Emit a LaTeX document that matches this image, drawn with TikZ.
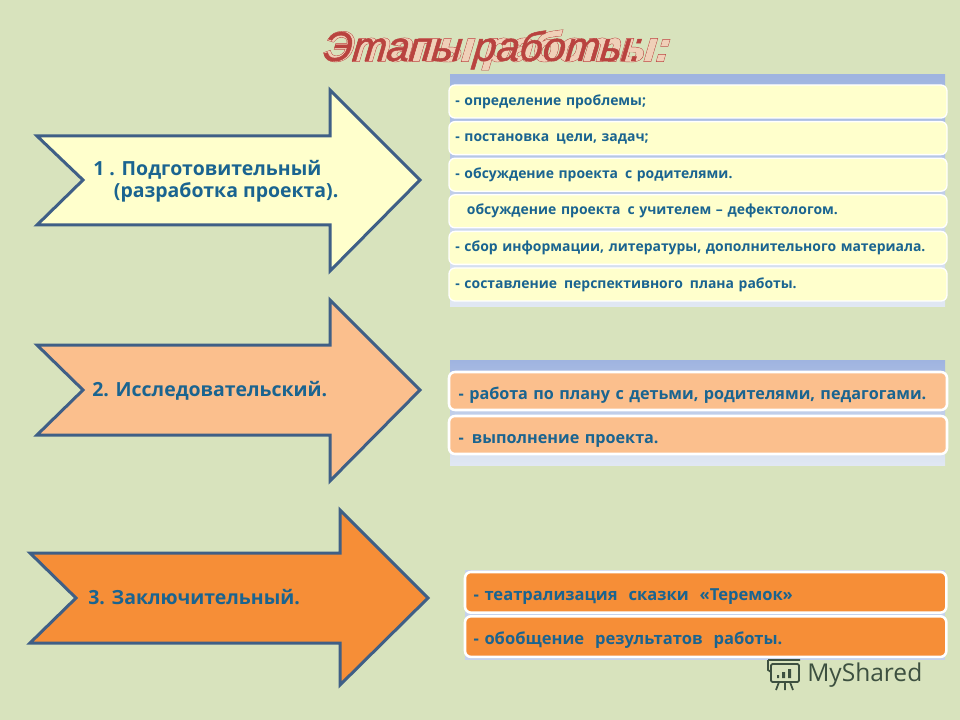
\documentclass[tikz,border=0pt]{standalone}
\usepackage{fontspec}
\setmainfont{Open Sans}
\newfontface\titleouter{Liberation Sans Bold Italic}[FakeBold=4.6,FakeSlant=0.1]
\newfontface\titlemiddle{Liberation Sans Bold Italic}[FakeBold=2.4,FakeSlant=0.1]
\newfontface\titleinner{Liberation Sans Italic}[FakeBold=1.2,FakeSlant=0.1]
\usepackage{tikz}
\usetikzlibrary{positioning}
\definecolor{pagegreen}{HTML}{D8E3BD}
\definecolor{arrowedge}{HTML}{3F5F86}
\definecolor{paleyellow}{HTML}{FFFFCC}
\definecolor{paleorange}{HTML}{FBBF8D}
\definecolor{deeporange}{HTML}{F68E37}
\definecolor{inkblue}{HTML}{1A6490}
\definecolor{paneltop}{HTML}{9FB4E0}
\definecolor{panelbottom}{HTML}{E1E8F3}
\definecolor{titlered}{HTML}{B9433F}
\definecolor{titlepale}{HTML}{F0D0B8}
\definecolor{logogrey}{HTML}{3D5040}
\newcommand{\titlelayers}[1]{\rlap{\color{titlered}\titleouter #1}\rlap{\color{titlepale}\titlemiddle #1}{\color{titlered}\titleouter\phantom{}}}
\tikzset{
	stagearrow/.style={draw=arrowedge, line width=2.25pt, line join=miter},
	stagelabel/.style={text=inkblue, font=\bfseries\fontsize{14.6pt}{16.5pt}\selectfont, align=left, anchor=west, inner sep=0pt},
	panelback/.style={bottom color=panelbottom, top color=paneltop, draw=none},
	stepitem/.style={rounded corners=4.5pt, draw=white, outer sep=0pt, minimum width=373.5pt, text width=364pt, align=left, inner xsep=4pt, inner ysep=0pt, text height=1ex, text depth=0pt, text=inkblue, anchor=north west},
	smallitem/.style={stepitem, fill=paleyellow, line width=1pt, minimum height=24.75pt, font=\bfseries\fontsize{10.45pt}{12pt}\selectfont},
	midditem/.style={stepitem, fill=paleorange, line width=1.9pt, minimum height=28.5pt, inner xsep=6.5pt, text width=359pt, text height=12.5pt, font=\bfseries\fontsize{12.15pt}{14pt}\selectfont},
	bigitem/.style={stepitem, fill=deeporange, line width=1.9pt, minimum width=361pt, inner xsep=6pt, text width=348pt, text height=12.5pt, minimum height=30.5pt, font=\bfseries\fontsize{12.4pt}{14pt}\selectfont}
}
\renewcommand{\titlelayers}[1]{\rlap{\color{titlered}\titleouter #1}\rlap{\color{titlepale}\titlemiddle #1}{\color{titlered}\titleinner #1}}
\begin{document}
\begin{tikzpicture}[x=0.75pt, y=-0.75pt, node distance=2.7pt]
	\fill[pagegreen] (0,0) rectangle (960,720);
	\useasboundingbox (0,0) rectangle (960,720);

	\node[inner sep=0pt, font=\fontsize{31pt}{36pt}\selectfont] (title) at (482,50) {\titlelayers{Этапы работы:}};

	\draw[stagearrow, fill=paleyellow] (37,136) -- (330,136) -- (330,90) -- (420,180) -- (330,271) -- (330,225) -- (37,225) -- (83,180) -- cycle;
	\draw[stagearrow, fill=paleorange] (37,345) -- (330,345) -- (330,300) -- (420,390) -- (330,481) -- (330,435) -- (37,435) -- (83,390) -- cycle;
	\draw[stagearrow, fill=deeporange] (30,553) -- (340,553) -- (340,510) -- (428,598) -- (340,685) -- (340,643) -- (30,643) -- (76,598) -- cycle;

	\node[stagelabel] (stageone) at (93,181) {1 . Подготовительный\\\hspace*{15.5pt}(разработка проекта).};
	\node[stagelabel] (stagetwo) at (92,391) {2. Исследовательский.};
	\node[stagelabel] (stagethree) at (88,597) {3. Заключительный.};

	\fill[panelback] (450,75) rectangle (945,307);
	\node[smallitem] (item1) at (449,85) {- определение проблемы;};
	\node[smallitem, below=of item1] (item2) {- постановка\ \,цели, задач;};
	\node[smallitem, below=of item2] (item3) {- обсуждение проекта\ \,с родителями.};
	\node[smallitem, below=of item3] (item4) {\ \ \,обсуждение проекта\ \,с учителем – дефектологом.};
	\node[smallitem, below=of item4] (item5) {- сбор информации, литературы, дополнительного материала.};
	\node[smallitem, below=of item5] (item6) {- составление\ \,перспективного\ \,плана работы.};

	\fill[panelback] (450,360) rectangle (945,465);
	\node[midditem] (work1) at (449,372) {- работа по плану с детьми, родителями, педагогами.};
	\node[midditem, below=4.5pt of work1] (work2) {- \,выполнение проекта.};

	\fill[paneltop!60!white] (465,570) rectangle (945,660);
	\node[bigitem] (final1) at (465,572) {- театрализация\ \ сказки\ \ «Теремок»};
	\node[bigitem, below=2.7pt of final1] (final2) {- обобщение\ \ результатов\ \ работы.};

	\draw[logogrey, line width=1.3pt, rounded corners=1pt] (771,664) rectangle (799,682);
	\draw[logogrey, line width=1.3pt] (768,660) -- (800,660) (768,660) -- (768,670) -- (771,672) (779,682) -- (776,690) (790,682) -- (793,690) (785,682) -- (785,690);
	\fill[logogrey] (777,675) rectangle (779,678) (782,672) rectangle (785,678) (788,669) rectangle (791,678);
	\node[anchor=west, inner sep=0pt, text=logogrey, font=\fontsize{18.4pt}{22pt}\selectfont] (logo) at (807,675) {MyShared};
\end{tikzpicture}
\end{document}
